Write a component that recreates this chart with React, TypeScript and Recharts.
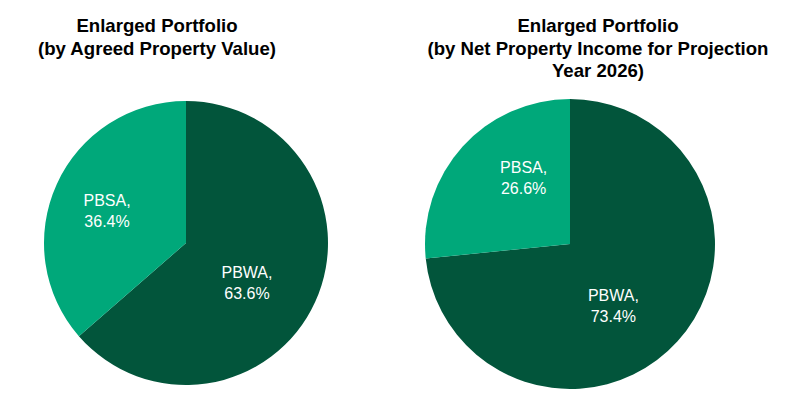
import React from "react";
import { PieChart, Pie, Cell } from "recharts";

const categories = ["PBWA", "PBSA"];
const valueShares = [63.6, 36.4];
const incomeShares = [73.4, 26.6];
const titles = [
  ["Enlarged Portfolio", "(by Agreed Property Value)"],
  ["Enlarged Portfolio", "(by Net Property Income for Projection", "Year 2026)"],
];

const COLORS = ["#02553B", "#00A87A"];
const FONT = "'Liberation Sans', Arial, sans-serif";
const RAD = Math.PI / 180;

const valueData = categories.map((name, i) => ({ name, value: valueShares[i] }));
const incomeData = categories.map((name, i) => ({ name, value: incomeShares[i] }));

// label nudges (best-fit style placement), per slice
const nudgesLeft = [
  [-14, 5],
  [-4, 1],
];
const nudgesRight = [
  [-19, 5],
  [16, -11],
];

const makeLabel = (nudges: number[][]) => (props: any) => {
  const { cx, cy, midAngle, outerRadius, index, name, value } = props;
  const r = outerRadius * 0.58;
  const x = cx + r * Math.cos(-midAngle * RAD) + nudges[index][0];
  const y = cy + r * Math.sin(-midAngle * RAD) + nudges[index][1];
  return (
    <text
      x={x}
      y={y}
      fill="#ffffff"
      textAnchor="middle"
      fontFamily={FONT}
      fontSize={16}
    >
      <tspan x={x} dy={-4}>{`${name},`}</tspan>
      <tspan x={x} dy={21}>{`${value.toFixed(1)}%`}</tspan>
    </text>
  );
};

export default function App() {
  return (
    <div style={{ position: "absolute", left: 0, top: 0, width: 790, height: 398, background: "#fff" }}>
      <svg width={790} height={398} style={{ position: "absolute", left: 0, top: 0 }}>
        {titles[0].map((t, i) => (
          <text key={i} x={157} y={32 + i * 23} textAnchor="middle" fontFamily={FONT} fontWeight="bold" fontSize={18.6} fill="#000">
            {t}
          </text>
        ))}
        {titles[1].map((t, i) => (
          <text key={i} x={598} y={32 + i * 22.5} textAnchor="middle" fontFamily={FONT} fontWeight="bold" fontSize={18.6} fill="#000">
            {t}
          </text>
        ))}
      </svg>
      <div style={{ position: "absolute", left: 0, top: 0 }}>
        <PieChart width={790} height={398} margin={{ top: 0, right: 0, bottom: 0, left: 0 }}>
          <Pie
            data={valueData}
            dataKey="value"
            nameKey="name"
            cx={186}
            cy={243}
            outerRadius={142}
            startAngle={90}
            endAngle={-270}
            stroke="none"
            labelLine={false}
            label={makeLabel(nudgesLeft)}
            isAnimationActive={false}
          >
            {valueData.map((d, i) => (
              <Cell key={d.name} fill={COLORS[i]} />
            ))}
          </Pie>
          <Pie
            data={incomeData}
            dataKey="value"
            nameKey="name"
            cx={570}
            cy={244}
            outerRadius={145}
            startAngle={90}
            endAngle={-270}
            stroke="none"
            labelLine={false}
            label={makeLabel(nudgesRight)}
            isAnimationActive={false}
          >
            {incomeData.map((d, i) => (
              <Cell key={d.name} fill={COLORS[i]} />
            ))}
          </Pie>
        </PieChart>
      </div>
    </div>
  );
}
